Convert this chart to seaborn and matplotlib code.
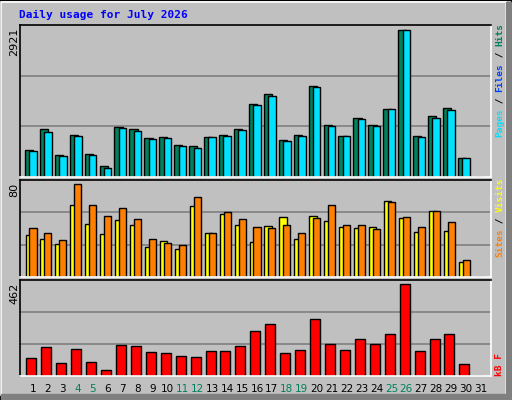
import numpy as np
import pandas as pd
import matplotlib
matplotlib.use("Agg")
import matplotlib.pyplot as plt
import seaborn as sns
from matplotlib.patches import Rectangle

days = list(range(1, 32))
hits = [542, 958, 443, 839, 463, 225, 998, 958, 780, 800, 641, 621, 800, 839, 958, 1454,
        1653, 740, 839, 1811, 1038, 820, 1177, 1038, 1355, 2921, 820, 1216, 1375, 383, 0]
files = [522, 899, 423, 820, 443, 185, 978, 919, 760, 780, 621, 582, 800, 820, 939, 1434,
         1613, 720, 820, 1791, 1018, 820, 1157, 1018, 1355, 2921, 800, 1177, 1335, 383, 0]
visits = [36.5, 33, 28.7, 62.6, 46, 37.4, 49.6, 45.2, 26, 31.3, 24.3, 61.7, 38.3, 54.8, 45.2, 30.4,
          44.3, 52.2, 33, 53, 48.7, 43.5, 42.6, 43.5, 66, 51.3, 39.1, 57.4, 40, 13, 0]
sites = [42.6, 38.3, 32.2, 80, 62.6, 53, 60, 50.4, 33, 29.6, 27.8, 68.7, 38.3, 56.5, 50.4, 43.5,
         42.6, 45.2, 38.3, 51.3, 62.6, 45.2, 45.2, 41.7, 65.2, 52.2, 43.5, 57.4, 47.8, 14.8, 0]
kbytes = [88, 147, 66, 134, 71, 30, 157, 152, 122, 117, 102, 96, 127, 127, 152, 228,
          259, 117, 132, 284, 162, 132, 188, 162, 213, 462, 127, 188, 213, 61, 0]
weekends = [4, 5, 11, 12, 18, 19, 25, 26]
max_hits, max_sites, max_kb = 2921, 80, 462

BG = "#C0C0C0"
W, H = 512, 400
fig = plt.figure(figsize=(5.12, 4.0), dpi=100, facecolor=BG)
mono = "DejaVu Sans Mono"

# bevel border
fig.patches.append(Rectangle((0, 0), 1, 1, transform=fig.transFigure, fill=False, ec="black", lw=1.5))
fig.patches.append(Rectangle((1/W, 5/H), 1 - 7/W, 1 - 7/H, transform=fig.transFigure, fill=False, ec="white", lw=1.2))
fig.patches.append(Rectangle(((W-6)/W, 0), 5/W, 1 - 2/H, transform=fig.transFigure, color="#808080"))
fig.patches.append(Rectangle((1/W, 1/H), 1 - 2/W, 5/H, transform=fig.transFigure, color="#808080"))

def mk(top, bottom, left=20, right=491):
    return fig.add_axes([left/W, 1 - bottom/H, (right-left)/W, (bottom-top)/H])

def style(ax, ymax_label, label_px):
    ax.set_facecolor(BG)
    ax.set_xlim(0.13, 31.67)
    for f in (1/3, 2/3):
        ax.axhline(ax.get_ylim()[1] * f, color="#808080", lw=1.2, zorder=0)
    ax.set_xticks([]); ax.set_yticks([])
    ax.set_xlabel(""); ax.set_ylabel("")
    for s in ("left", "top"):
        ax.spines[s].set_color("black"); ax.spines[s].set_linewidth(1.2)
    for s in ("right", "bottom"):
        ax.spines[s].set_color("white"); ax.spines[s].set_linewidth(1.2)
    fig.text(14/W, 1 - label_px/H, ymax_label, rotation=90, ha="center", va="top",
             fontsize=8, family="DejaVu Sans", color="black")

d = np.array(days, dtype=float)

ax1 = mk(25, 177)
sns.barplot(x=d - 0.27, y=hits, native_scale=True, width=0.55, color="#00805C",
            saturation=1, edgecolor="black", linewidth=1, ax=ax1)
sns.barplot(x=d, y=files, native_scale=True, width=0.5, color="#00E0FF",
            saturation=1, edgecolor="black", linewidth=1, ax=ax1)
ax1.set_ylim(0, max_hits / 0.97)
style(ax1, str(max_hits), 28)

ax2 = mk(180, 277)
sns.barplot(x=d - 0.25, y=visits, native_scale=True, width=0.5, color="#FFFF00",
            saturation=1, edgecolor="black", linewidth=1, ax=ax2)
sns.barplot(x=d, y=sites, native_scale=True, width=0.47, color="#FF8000",
            saturation=1, edgecolor="black", linewidth=1, ax=ax2)
ax2.set_ylim(0, max_sites / 0.955)
style(ax2, str(max_sites), 183)

ax3 = mk(280, 376)
sns.barplot(x=d - 0.11, y=kbytes, native_scale=True, width=0.67, color="#FF0000",
            saturation=1, edgecolor="black", linewidth=1, ax=ax3)
ax3.set_ylim(0, max_kb / 0.958)
style(ax3, str(max_kb), 283)

for dd in days:
    xpx = 20 + (dd - 0.13) * (471 / 31.54)
    fig.text(xpx / W, 1 - 389/H, str(dd), ha="center", va="center", fontsize=7.5,
             family="DejaVu Sans", color="#00805C" if dd in weekends else "black")

fig.text(19/W, 1 - 15/H, "Daily usage for July 2026", ha="left", va="center",
         fontsize=8, family=mono, weight="bold", color="#0000FF")

FS = 6.8
STEP = FS * 1.389 * 0.602

def vstack(parts, x_px, bottom_px):
    y = bottom_px
    for txt, col in parts:
        fig.text(x_px/W, 1 - y/H, txt, rotation=90, ha="center", va="bottom",
                 fontsize=FS, family=mono, weight="bold", color=col)
        y -= len(txt) * STEP

vstack([("Pages", "#00E0FF"), (" / ", "black"), ("Files", "#0040FF"), (" / ", "black"), ("Hits", "#00805C")], 500, 137)
vstack([("Sites", "#FF8000"), (" / ", "black"), ("Visits", "#FFFF00")], 500, 257)
vstack([("kB F", "#FF0000")], 500, 376)

fig.savefig("out.png", dpi=100, facecolor=BG)
